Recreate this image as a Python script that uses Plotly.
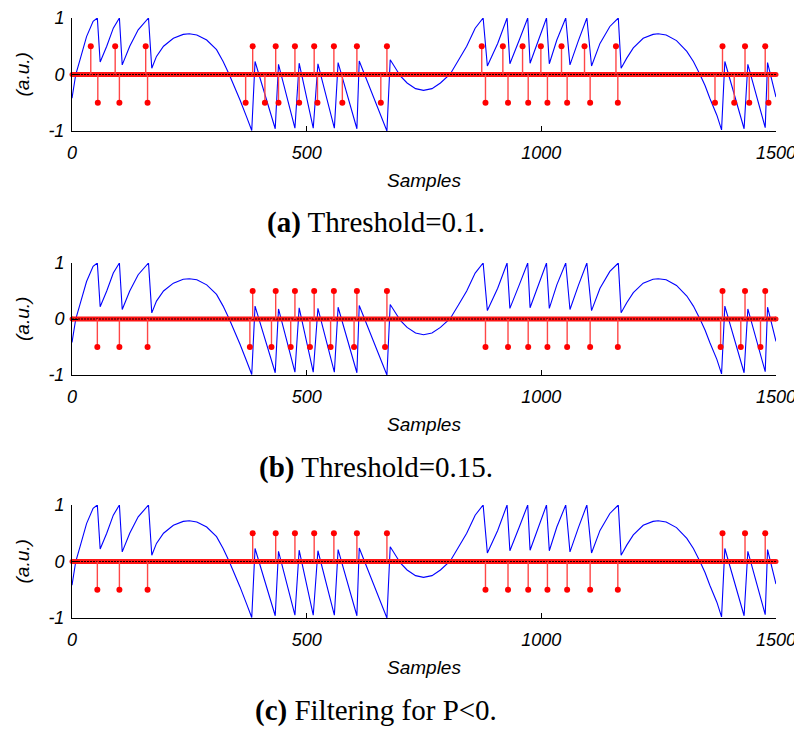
import plotly.graph_objects as go

# ---- blue signal ----
sig_x = [0, 8, 17, 31, 45, 54, 60, 74, 88, 101, 107, 123, 141, 163, 170,
         180, 195, 216, 237, 250, 266, 287, 308, 322, 335, 347, 358, 372, 383,
         390, 433, 440, 475, 484, 514, 524, 559, 567, 607, 612, 671, 678,
         700, 714, 732, 749, 767, 785, 806, 824, 841, 859, 876,
         885, 907, 927, 933, 953, 971, 976, 994, 1011, 1017, 1033, 1052,
         1061, 1079, 1097, 1107, 1125, 1146, 1164, 1170,
         1182, 1196, 1217, 1238, 1249, 1266, 1288, 1310, 1324, 1338, 1349, 1359, 1374, 1384,
         1391, 1432, 1440, 1477, 1482, 1500]
sig_y = [-0.42, 0.0, 0.26, 0.67, 0.94, 1.0, 0.22, 0.5, 0.82, 1.0, 0.17, 0.5, 0.79, 1.0, 0.11,
         0.32, 0.50, 0.64, 0.71, 0.72, 0.70, 0.61, 0.44, 0.23, 0.0, -0.23, -0.45, -0.75, -0.99,
         0.23, -0.96, 0.18, -0.95, 0.2, -0.95, 0.19, -0.95, 0.21, -0.96, 0.24, -1.0, 0.26,
         -0.03, -0.15, -0.25, -0.28, -0.25, -0.15, 0.01, 0.26, 0.5, 0.82, 1.0,
         0.15, 0.55, 1.0, 0.19, 0.61, 1.0, 0.2, 0.61, 1.0, 0.19, 0.61, 1.0,
         0.17, 0.6, 1.0, 0.15, 0.55, 0.85, 1.0, 0.11,
         0.29, 0.47, 0.64, 0.71, 0.72, 0.70, 0.60, 0.41, 0.23, 0.0, -0.2, -0.42, -0.72, -0.98,
         0.23, -0.96, 0.18, -0.94, 0.21, -0.40]

# ---- stems (positions of +0.5 / -0.5 pulses) ----
a_pos = [40, 92, 157, 385, 434, 475, 516, 558, 607, 671,
         873, 918, 960, 999, 1043, 1092, 1159, 1386, 1434, 1477]
a_neg = [55, 101, 161, 370, 411, 440, 484, 523, 576, 658,
         881, 929, 972, 1013, 1055, 1104, 1163, 1370, 1411, 1443, 1484]
b_pos = [385, 434, 475, 516, 558, 607, 671, 1386, 1434, 1477]
b_neg = [54, 101, 161, 379, 425, 466, 507, 551, 601, 667,
         881, 929, 972, 1013, 1055, 1104, 1163, 1382, 1425, 1467]
c_pos = [385, 434, 475, 516, 558, 607, 671, 1386, 1434, 1477]
c_neg = [54, 101, 161, 881, 929, 972, 1013, 1055, 1104, 1163]
pulse_amp = 0.5

zero_x = [0, 1500]
zero_y = [0, 0]

captions = ["<b>(a)</b> Threshold=0.1.", "<b>(b)</b> Threshold=0.15.", "<b>(c)</b> Filtering for P&lt;0."]
x_ticks = [0, 500, 1000, 1500]
x_ticktext = ["0", "500", "1000", "1500"]
y_ticks = [-1, 0, 1]
y_ticktext = ["-1", "0", "1"]

# the page body adds an 8px offset; work in screen pixels and convert
OFF = 8
W, H = 802 - OFF, 729 - OFF
def px(sx):
    return (sx - OFF) / W
def py(sy):
    return 1 - (sy - OFF) / H

ax_left, ax_right = 72, 776
panels = [(18, 131), (263, 375), (505, 618)]  # (top px, bottom px) on screen
samples_off = 49
caption_off = 92

fig = go.Figure()
annotations = []
layout = {}

for i, ((pos, neg), (top, bot), cap) in enumerate(zip([(a_pos, a_neg), (b_pos, b_neg), (c_pos, c_neg)], panels, captions)):
    n = i + 1
    xa = "x" if n == 1 else f"x{n}"
    ya = "y" if n == 1 else f"y{n}"
    fig.add_trace(go.Scatter(x=sig_x, y=sig_y, mode="lines", xaxis=xa, yaxis=ya,
                             line=dict(color="rgb(0,0,255)", width=1.1), hoverinfo="skip"))
    fig.add_trace(go.Scatter(x=zero_x, y=zero_y, mode="lines+markers", xaxis=xa, yaxis=ya,
                             line=dict(color="rgb(255,20,20)", width=5),
                             marker=dict(color="rgb(255,20,20)", size=5), cliponaxis=False,
                             hoverinfo="skip"))
    fig.add_trace(go.Scatter(x=zero_x, y=zero_y, mode="lines", xaxis=xa, yaxis=ya,
                             line=dict(color="rgb(20,0,0)", width=1.2, dash="2px,1px"),
                             hoverinfo="skip"))
    sx, sy = [], []
    for p in pos:
        sx += [p, p, None]; sy += [0, pulse_amp, None]
    for q in neg:
        sx += [q, q, None]; sy += [0, -pulse_amp, None]
    fig.add_trace(go.Scatter(x=sx, y=sy, mode="lines", xaxis=xa, yaxis=ya,
                             line=dict(color="rgb(255,70,70)", width=1.4), hoverinfo="skip"))
    fig.add_trace(go.Scatter(x=pos + neg, y=[pulse_amp] * len(pos) + [-pulse_amp] * len(neg),
                             mode="markers", xaxis=xa, yaxis=ya, cliponaxis=False,
                             marker=dict(color="rgb(255,0,0)", size=6), hoverinfo="skip"))

    xdom = [px(ax_left), px(ax_right)]
    ydom = [py(bot), py(top)]
    tickfont = dict(family="Liberation Sans, Arial, sans-serif", size=18, color="black", style="italic")
    layout["xaxis" if n == 1 else f"xaxis{n}"] = dict(
        domain=xdom, range=[0, 1500], anchor=ya, tickvals=x_ticks, ticktext=x_ticktext,
        ticks="inside", ticklen=5, tickcolor="black", showline=True, linecolor="black",
        linewidth=1, showgrid=False, zeroline=False, tickfont=tickfont, automargin=False,
        ticklabeloverflow="allow", ticklabelstandoff=5)
    layout["yaxis" if n == 1 else f"yaxis{n}"] = dict(
        domain=ydom, range=[-1, 1], anchor=xa, tickvals=y_ticks, ticktext=y_ticktext,
        ticks="inside", ticklen=6, tickcolor="black", showline=True, linecolor="black",
        linewidth=1, showgrid=False, zeroline=False, tickfont=tickfont, automargin=False,
        ticklabeloverflow="allow", ticklabelstandoff=3)

    mid = (top + bot) / 2
    annotations.append(dict(text="<i>(a.u.)</i>", x=px(22), y=py(mid), xref="paper", yref="paper",
                            textangle=-90, showarrow=False, xanchor="center", yanchor="middle",
                            font=dict(family="Liberation Sans, Arial, sans-serif", size=19, color="black")))
    annotations.append(dict(text="<i>Samples</i>", x=px((ax_left + ax_right) / 2), y=py(bot + samples_off),
                            xref="paper", yref="paper", showarrow=False, xanchor="center", yanchor="middle",
                            font=dict(family="Liberation Sans, Arial, sans-serif", size=19, color="black")))
    annotations.append(dict(text=cap, x=px(376), y=py(bot + caption_off),
                            xref="paper", yref="paper", showarrow=False, xanchor="center", yanchor="middle",
                            font=dict(family="Liberation Serif, Times New Roman, serif", size=29, color="black")))

fig.update_layout(width=W, height=H, margin=dict(l=0, r=0, t=0, b=0, autoexpand=False),
                  plot_bgcolor="white", paper_bgcolor="white", showlegend=False,
                  annotations=annotations, **layout)

fig.write_html("out.html")
